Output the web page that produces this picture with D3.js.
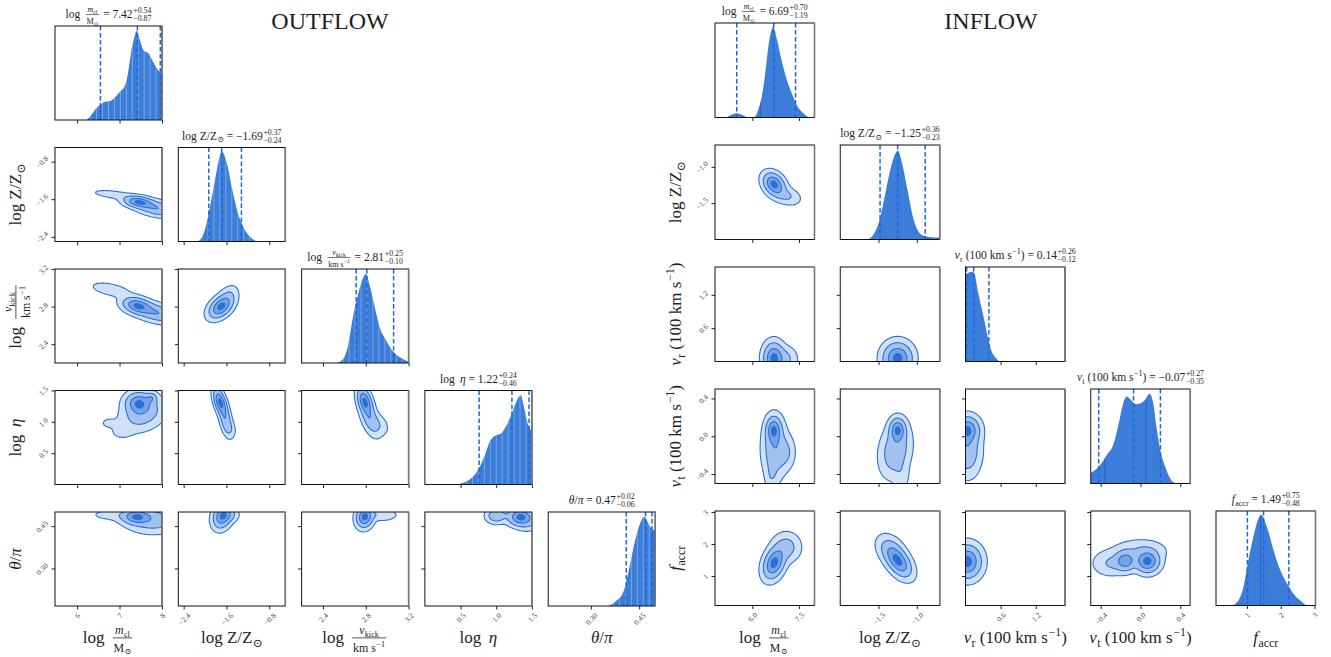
<!DOCTYPE html>
<html><head><meta charset="utf-8">
<script src="https://cdn.jsdelivr.net/npm/d3@7"></script>
<style>
body{margin:0;background:#fff;}
svg text{font-family:"Liberation Serif","DejaVu Serif",serif;white-space:pre;}
</style></head><body>
<svg id="chart" width="1331" height="657"></svg>
<script>
// ===================== DATA =====================
// ---- OUTFLOW ----
const outflowDomains = [[5.48, 8.0], [-2.5, -0.5], [2.2, 3.2], [0.0, 1.5], [0.167, 0.5]];
const outflowTicks = [[6, 7, 8], [-2.4, -1.6, -0.8], [2.4, 2.8, 3.2], [0.5, 1.0, 1.5], [0.30, 0.45]];
const outflowTickLabels = [["6", "7", "8"], ["−2.4", "−1.6", "−0.8"], ["2.4", "2.8", "3.2"], ["0.5", "1.0", "1.5"], ["0.30", "0.45"]];
const outflowMedian = [7.42, -1.69, 2.81, 1.22, 0.47];
const outflowPlus = [0.54, 0.37, 0.25, 0.24, 0.02];
const outflowMinus = [0.87, 0.24, 0.10, 0.46, 0.06];
const outflowMedianText = ["7.42", "−1.69", "2.81", "1.22", "0.47"];
const outflowPlusText = ["+0.54", "+0.37", "+0.25", "+0.24", "+0.02"];
const outflowMinusText = ["−0.87", "−0.24", "−0.10", "−0.46", "−0.06"];

// 1D marginals: [value, relative density]
const outflowHistMcl = [[5.48,0],[6.2,0],[6.3,0.035],[6.42,0.106],[6.54,0.16],[6.66,0.195],[6.77,0.2],[6.89,0.24],[7.01,0.30],[7.13,0.37],[7.2,0.5],[7.28,0.745],[7.36,0.9],[7.40,0.95],[7.48,0.85],[7.56,0.745],[7.68,0.71],[7.79,0.62],[7.91,0.53],[8.0,0.5]];
const outflowHistZ = [[-2.5,0],[-2.15,0],[-2.03,0.08],[-1.90,0.39],[-1.79,0.73],[-1.73,0.9],[-1.69,0.96],[-1.59,0.83],[-1.49,0.55],[-1.40,0.33],[-1.28,0.15],[-1.15,0.045],[-1.0,0],[-0.5,0]];
const outflowHistVkick = [[2.2,0],[2.52,0],[2.587,0.04],[2.63,0.165],[2.68,0.49],[2.73,0.74],[2.78,0.92],[2.80,0.95],[2.84,0.81],[2.89,0.56],[2.93,0.38],[2.99,0.24],[3.05,0.13],[3.12,0.06],[3.2,0.015]];
const outflowHistEta = [[0,0],[0.41,0],[0.60,0.04],[0.74,0.15],[0.83,0.29],[0.92,0.47],[0.99,0.52],[1.06,0.54],[1.13,0.61],[1.20,0.72],[1.27,0.86],[1.345,0.95],[1.39,0.82],[1.44,0.65],[1.5,0.57]];
const outflowHistTheta = [[0.167,0],[0.351,0],[0.377,0.05],[0.402,0.16],[0.418,0.38],[0.433,0.63],[0.449,0.84],[0.466,0.95],[0.474,0.91],[0.485,0.84],[0.5,0.80]];

// 2D density blobs: [centre x, centre y, width x, width y, tilt, peak]
const kdeO_Z_M = [[7.45,-1.66,0.2,0.07,-0.3,1],[7.9,-1.8,0.3,0.1,-0.4,0.6],[6.85,-1.5,0.3,0.06,-0.5,0.15]];
const kdeO_V_M = [[7.42,2.81,0.2,0.05,-0.3,1],[7.9,2.73,0.3,0.06,-0.4,0.6],[6.8,2.98,0.3,0.05,-0.5,0.15]];
const kdeO_E_M = [[7.45,1.30,0.18,0.1,0,1],[7.75,1.38,0.08,0.05,0,0.45],[7.55,1.12,0.3,0.15,0.3,0.45],[6.75,0.98,0.12,0.05,0,0.1],[7.05,0.84,0.16,0.07,0,0.1]];
const kdeO_T_M = [[7.4,0.483,0.2,0.015,0,1],[7.8,0.47,0.35,0.025,0,0.5],[6.9,0.49,0.35,0.012,0,0.15]];
const kdeO_V_Z = [[-1.70,2.80,0.13,0.07,0.45,1],[-1.55,2.93,0.1,0.06,0.3,0.15]];
const kdeO_E_Z = [[-1.72,1.32,0.07,0.12,-0.5,1],[-1.62,1.05,0.07,0.15,-0.5,0.5],[-1.55,0.9,0.07,0.08,-0.3,0.15]];
const kdeO_T_Z = [[-1.68,0.485,0.1,0.025,0.2,1],[-1.55,0.49,0.1,0.015,0,0.3]];
const kdeO_E_V = [[2.79,1.33,0.04,0.12,-0.4,1],[2.84,1.05,0.05,0.15,-0.5,0.5],[2.93,0.95,0.05,0.1,-0.3,0.15]];
const kdeO_T_V = [[2.79,0.483,0.045,0.022,0.1,1],[2.95,0.49,0.08,0.012,0,0.2]];
const kdeO_T_E = [[1.33,0.483,0.1,0.018,0,1],[1.0,0.487,0.08,0.015,0,0.55],[1.45,0.47,0.1,0.02,0,0.3]];

// ---- INFLOW ----
const inflowDomains = [[4.8, 8.0], [-2.0, -0.7], [0.0, 1.7], [-0.5, 0.5], [0.08, 3.03]];
const inflowTicks = [[6.0, 7.5], [-1.5, -1.0], [0.6, 1.2], [-0.4, 0.0, 0.4], [1, 2, 3]];
const inflowTickLabels = [["6.0", "7.5"], ["−1.5", "−1.0"], ["0.6", "1.2"], ["−0.4", "0.0", "0.4"], ["1", "2", "3"]];
const inflowMedian = [6.69, -1.25, 0.14, -0.07, 1.49];
const inflowPlus = [0.70, 0.36, 0.26, 0.27, 0.75];
const inflowMinus = [1.19, 0.23, 0.12, 0.35, 0.48];
const inflowMedianText = ["6.69", "−1.25", "0.14", "−0.07", "1.49"];
const inflowPlusText = ["+0.70", "+0.36", "+0.26", "+0.27", "+0.75"];
const inflowMinusText = ["−1.19", "−0.23", "−0.12", "−0.35", "−0.48"];

const inflowHistMcl = [[4.8,0],[5.12,0],[5.3,0.025],[5.50,0.045],[5.7,0.025],[5.83,0.005],[5.99,0],[6.09,0.01],[6.20,0.09],[6.31,0.23],[6.42,0.48],[6.52,0.76],[6.63,0.94],[6.67,0.96],[6.79,0.83],[6.96,0.58],[7.12,0.39],[7.28,0.25],[7.44,0.125],[7.61,0.055],[7.77,0.01],[7.85,0],[8,0]];
const inflowHistZ = [[-2,0],[-1.65,0],[-1.56,0.06],[-1.50,0.17],[-1.43,0.41],[-1.36,0.69],[-1.30,0.87],[-1.246,0.94],[-1.19,0.80],[-1.12,0.52],[-1.06,0.27],[-0.99,0.10],[-0.93,0.045],[-0.86,0.03],[-0.7,0.02]];
const inflowHistVr = [[0,0.92],[0.05,0.94],[0.12,0.95],[0.153,0.93],[0.21,0.75],[0.27,0.58],[0.32,0.44],[0.38,0.26],[0.44,0.12],[0.52,0.035],[0.61,0],[1.7,0]];
const inflowHistVt = [[-0.5,0.11],[-0.41,0.19],[-0.34,0.30],[-0.27,0.42],[-0.22,0.63],[-0.17,0.86],[-0.14,0.92],[-0.10,0.89],[-0.05,0.84],[0.0,0.85],[0.05,0.89],[0.09,0.95],[0.13,0.84],[0.16,0.60],[0.20,0.35],[0.25,0.175],[0.30,0.05],[0.35,0.005],[0.38,0],[0.5,0]];
const inflowHistFaccr = [[0.08,0],[0.54,0],[0.74,0.05],[0.89,0.19],[1.04,0.48],[1.19,0.73],[1.34,0.92],[1.42,0.96],[1.59,0.83],[1.79,0.58],[1.99,0.37],[2.19,0.23],[2.39,0.12],[2.59,0.05],[2.79,0],[3.03,0]];
const inflowInnerLines = [[6.26], [], [], [-0.36, 0.056], [1.40]];

const kdeI_Z_M = [[6.7,-1.24,0.2,0.09,-0.3,1],[7.1,-1.4,0.25,0.07,-0.3,0.25]];
const kdeI_R_M = [[6.69,0.06,0.19,0.16,0,1],[7.1,0.05,0.2,0.12,0,0.25]];
const kdeI_T_M = [[6.69,0.07,0.14,0.08,0,1],[6.72,-0.13,0.22,0.17,0,0.65],[7.08,-0.17,0.17,0.1,0,0.3],[6.62,-0.42,0.12,0.1,0,0.2]];
const kdeI_F_M = [[6.7,1.4,0.2,0.28,0.3,1],[7.1,1.9,0.25,0.25,0,0.35]];
const kdeI_R_Z = [[-1.25,0.06,0.11,0.16,0,1]];
const kdeI_T_Z = [[-1.25,0.07,0.06,0.07,0,1],[-1.28,-0.15,0.11,0.15,0.2,0.6],[-1.2,-0.42,0.06,0.1,0,0.15]];
const kdeI_T_R = [[0.03,0.07,0.12,0.08,0,1],[0.03,-0.15,0.13,0.15,0,0.6]];
const kdeI_F_Z = [[-1.24,1.45,0.1,0.28,-0.5,1],[-1.35,1.85,0.1,0.25,-0.3,0.3]];
const kdeI_F_R = [[0.03,1.45,0.14,0.3,0,1]];
const kdeI_F_T = [[0.07,1.45,0.07,0.2,0,1],[-0.15,1.47,0.06,0.18,0,0.75],[-0.3,1.4,0.1,0.22,0,0.25],[0.0,1.8,0.15,0.2,0,0.2]];

// ===================== LABELS (math pieces) =====================
const LBL_MCL = ["log", {sp: 0.45}, {frac: [[{i: "m"}, {sub: ["cl"]}], ["M", {sub: ["⊙"]}]]}];
const LBL_Z = ["log ", "Z/Z", {sub: ["⊙"]}];
const LBL_VKICK = ["log", {sp: 0.45}, {frac: [[{i: "v"}, {sub: ["kick"]}], ["km s", {sup: ["−1"]}]]}];
const LBL_ETA = ["log", {sp: 0.45}, {i: "η"}];
const LBL_THETA = [{i: "θ"}, "/", {i: "π"}];
const LBL_VR = [{i: "v"}, {sub: ["r"]}, " (100 km s", {sup: ["−1"]}, ")"];
const LBL_VT = [{i: "v"}, {sub: ["t"]}, " (100 km s", {sup: ["−1"]}, ")"];
const LBL_FACCR = [{i: "f"}, {sub: ["accr"]}];

// ===================== STYLE / LAYOUT =====================
const HIST_FILL = "#3b7dd8";
const DASH_COLOR = "#1a68de";
const LINE_COLOR = "#2a6fd6";
const FILLS = ["#d0e0f6", "#a2c1ee", "#74a3e6", "#2a6fd8"];
const LEVELS = [0.05, 0.22, 0.55, 0.88];
const TEXT_COLOR = "#1e1e1e";

const corners = [
  {
    title: "OUTFLOW", titleX: 330,
    L: {x0: 55, dx: 123.3, w: 107, y0: 26, dy: 121.5, h: 94, ylabX: 21},
    domains: outflowDomains, ticks: outflowTicks, tickLabels: outflowTickLabels,
    median: outflowMedian, plus: outflowPlus, minus: outflowMinus,
    medianText: outflowMedianText, plusText: outflowPlusText, minusText: outflowMinusText,
    hists: [outflowHistMcl, outflowHistZ, outflowHistVkick, outflowHistEta, outflowHistTheta],
    innerLines: null,
    labels: [LBL_MCL, LBL_Z, LBL_VKICK, LBL_ETA, LBL_THETA],
    kde: {"1,0": kdeO_Z_M, "2,0": kdeO_V_M, "3,0": kdeO_E_M, "4,0": kdeO_T_M,
          "2,1": kdeO_V_Z, "3,1": kdeO_E_Z, "4,1": kdeO_T_Z,
          "3,2": kdeO_E_V, "4,2": kdeO_T_V, "4,3": kdeO_T_E}
  },
  {
    title: "INFLOW", titleX: 991,
    L: {x0: 715, dx: 125.25, w: 99.5, y0: 23, dy: 122, h: 94.5, ylabX: 681},
    domains: inflowDomains, ticks: inflowTicks, tickLabels: inflowTickLabels,
    median: inflowMedian, plus: inflowPlus, minus: inflowMinus,
    medianText: inflowMedianText, plusText: inflowPlusText, minusText: inflowMinusText,
    hists: [inflowHistMcl, inflowHistZ, inflowHistVr, inflowHistVt, inflowHistFaccr],
    innerLines: inflowInnerLines,
    labels: [LBL_MCL, LBL_Z, LBL_VR, LBL_VT, LBL_FACCR],
    kde: {"1,0": kdeI_Z_M, "2,0": kdeI_R_M, "3,0": kdeI_T_M, "4,0": kdeI_F_M,
          "2,1": kdeI_R_Z, "3,1": kdeI_T_Z, "4,1": kdeI_F_Z,
          "3,2": kdeI_T_R, "4,2": kdeI_F_R, "4,3": kdeI_F_T}
  }
];

// ===================== RENDERING =====================
const svg = d3.select("#chart");
let clipCount = 0;

function leaf(g, t, italic, x, y, size) {
  const el = g.append("text").attr("x", x).attr("y", y).attr("font-size", size)
    .attr("font-style", italic ? "italic" : "normal").attr("fill", TEXT_COLOR).text(t);
  return x + el.node().getComputedTextLength();
}
function layoutMath(g, items, x, y, size) {
  for (const it of items) {
    if (typeof it === "string") x = leaf(g, it, false, x, y, size);
    else if (it.i !== undefined) x = leaf(g, it.i, true, x, y, size);
    else if (it.sp !== undefined) x += it.sp * size;
    else if (it.sub) x = layoutMath(g, it.sub, x + 0.02 * size, y + 0.22 * size, size * 0.7);
    else if (it.sup) x = layoutMath(g, it.sup, x + 0.04 * size, y - 0.42 * size, size * 0.7);
    else if (it.supsub) {
      const a = layoutMath(g, it.supsub[0], x + 0.06 * size, y - 0.4 * size, size * 0.68);
      const b = layoutMath(g, it.supsub[1], x + 0.06 * size, y + 0.3 * size, size * 0.68);
      x = Math.max(a, b);
    } else if (it.frac) {
      const fs = size * 0.7;
      const gn = g.append("g"), gd = g.append("g");
      const wn = layoutMath(gn, it.frac[0], 0, y - 0.52 * size, fs);
      const wd = layoutMath(gd, it.frac[1], 0, y + 0.5 * size, fs);
      const W = Math.max(wn, wd) + 0.16 * size;
      gn.attr("transform", `translate(${x + (W - wn) / 2},0)`);
      gd.attr("transform", `translate(${x + (W - wd) / 2},0)`);
      g.append("line").attr("x1", x + 0.03 * size).attr("x2", x + W - 0.03 * size)
        .attr("y1", y - 0.3 * size).attr("y2", y - 0.3 * size)
        .attr("stroke", TEXT_COLOR).attr("stroke-width", Math.max(0.6, size * 0.045));
      x += W + 0.08 * size;
    }
  }
  return x;
}
function mathLabel(parent, items, size, cx, baseline, rotate) {
  const outer = parent.append("g");
  const inner = outer.append("g");
  const W = layoutMath(inner, items, 0, 0, size);
  if (rotate) outer.attr("transform", `translate(${baseline},${cx}) rotate(-90) translate(${-W / 2},0)`);
  else outer.attr("transform", `translate(${cx - W / 2},${baseline})`);
  return outer;
}

function drawKde(body, comps, xs, ys, xd, yd) {
  const nx = 150, ny = 140;
  const ex = (xd[1] - xd[0]) * 0.25, ey = (yd[1] - yd[0]) * 0.25;
  const x0 = xd[0] - ex, x1 = xd[1] + ex, y0 = yd[0] - ey, y1 = yd[1] + ey;
  const vals = new Float64Array(nx * ny);
  let mx = 0;
  for (let j = 0; j < ny; j++) {
    const y = y0 + j / (ny - 1) * (y1 - y0);
    for (let i = 0; i < nx; i++) {
      const x = x0 + i / (nx - 1) * (x1 - x0);
      let s = 0;
      for (const [cx, cy, sx, sy, rho, w] of comps) {
        const dx = (x - cx) / sx, dy = (y - cy) / sy;
        s += w * Math.exp(-0.5 * (dx * dx - 2 * rho * dx * dy + dy * dy) / (1 - rho * rho));
      }
      vals[j * nx + i] = s;
      if (s > mx) mx = s;
    }
  }
  const cs = d3.contours().size([nx, ny]).thresholds(LEVELS.map(f => f * mx))(vals);
  const toPx = p => {
    const x = x0 + (p[0] - 0.5) / (nx - 1) * (x1 - x0);
    const y = y0 + (p[1] - 0.5) / (ny - 1) * (y1 - y0);
    return [xs(x), ys(y)];
  };
  const pathOf = geom => geom.coordinates.map(poly => poly.map(ring =>
    "M" + ring.map(p => toPx(p).map(v => v.toFixed(2)).join(",")).join("L") + "Z").join("")).join("");
  body.selectAll("path.kde").data(cs).join("path").attr("class", "kde")
    .attr("d", pathOf).attr("fill", (d, i) => FILLS[i]).attr("fill-rule", "evenodd")
    .attr("stroke", LINE_COLOR).attr("stroke-width", 1.1);
}

function styleTickText(sel, orient) {
  sel.each(function () {
    const t = d3.select(this);
    if (!t.text()) return;
    t.attr("font-size", 7.5).attr("fill", "#444").attr("text-anchor", "middle")
      .attr("x", 0).attr("y", 0).attr("dy", "0.35em");
    const len = this.getComputedTextLength();
    const half = (len + 5) * 0.7071 / 2;
    if (orient === "bottom") t.attr("transform", `translate(0,${3.5 + 3 + half}) rotate(-45)`);
    else t.attr("transform", `translate(${-(3.5 + 3 + half)},0) rotate(-45)`);
  });
}

function drawCorner(cfg) {
  const L = cfg.L, n = cfg.domains.length;
  const g = svg.append("g");
  g.append("text").attr("x", cfg.titleX).attr("y", 29).attr("text-anchor", "middle")
    .attr("font-size", 24).attr("fill", TEXT_COLOR).text(cfg.title);

  for (let r = 0; r < n; r++) for (let c = 0; c <= r; c++) {
    const left = L.x0 + c * L.dx, top = L.y0 + r * L.dy;
    const xs = d3.scaleLinear().domain(cfg.domains[c]).range([left, left + L.w]);
    const pg = g.append("g");
    const cid = "clip" + (clipCount++);
    pg.append("clipPath").attr("id", cid).append("rect")
      .attr("x", left).attr("y", top).attr("width", L.w).attr("height", L.h);
    const body = pg.append("g").attr("clip-path", `url(#${cid})`);

    if (r === c) {
      const ys = d3.scaleLinear().domain([0, 1]).range([top + L.h, top]);
      const area = d3.area().x(d => xs(d[0])).y0(ys(0)).y1(d => ys(d[1])).curve(d3.curveMonotoneX);
      const hd = cfg.hists[c];
      body.append("path").attr("d", area(hd)).attr("fill", HIST_FILL);
      const aid = "clip" + (clipCount++);
      pg.append("clipPath").attr("id", aid).append("path").attr("d", area(hd));
      const lg = body.append("g").attr("clip-path", `url(#${aid})`);
      if (cfg.innerLines) {
        lg.selectAll("line").data(cfg.innerLines[c]).join("line")
          .attr("x1", d => xs(d)).attr("x2", d => xs(d)).attr("y1", top).attr("y2", top + L.h)
          .attr("stroke", "#2856a8").attr("stroke-width", 0.9).attr("opacity", 0.8);
      } else {
        const bins = d3.range(1, 18).map(k => cfg.domains[c][0] + k * (cfg.domains[c][1] - cfg.domains[c][0]) / 18);
        lg.selectAll("line").data(bins).join("line")
          .attr("x1", d => xs(d)).attr("x2", d => xs(d)).attr("y1", top).attr("y2", top + L.h)
          .attr("stroke", "#ffffff").attr("stroke-width", 0.9).attr("opacity", 0.35);
      }
      const q = [cfg.median[c] - cfg.minus[c], cfg.median[c], cfg.median[c] + cfg.plus[c]];
      body.selectAll("line.q").data(q).join("line").attr("class", "q")
        .attr("x1", d => xs(d)).attr("x2", d => xs(d)).attr("y1", top).attr("y2", top + L.h)
        .attr("stroke", DASH_COLOR).attr("stroke-width", 1.5).attr("stroke-dasharray", "4.5,2.5");
      // title
      const titleItems = cfg.labels[c].concat([" = " + cfg.medianText[c], {supsub: [[cfg.plusText[c]], [cfg.minusText[c]]]}]);
      mathLabel(g, titleItems, 11.5, left + L.w / 2, top - 8, false);
    } else {
      const ys = d3.scaleLinear().domain(cfg.domains[r]).range([top + L.h, top]);
      drawKde(body, cfg.kde[`${r},${c}`], xs, ys, cfg.domains[c], cfg.domains[r]);
      const axl = d3.axisLeft(ys).tickValues(cfg.ticks[r]).tickSize(3.5).tickSizeOuter(0)
        .tickFormat((d, i) => c === 0 ? cfg.tickLabels[r][i] : "");
      const ag = pg.append("g").attr("transform", `translate(${left},0)`).call(axl);
      ag.select(".domain").remove();
      ag.selectAll("line").attr("stroke", "#222");
      styleTickText(ag.selectAll("text"), "left");
    }
    // frame
    pg.append("rect").attr("x", left).attr("y", top).attr("width", L.w).attr("height", L.h)
      .attr("fill", "none").attr("stroke", "#111").attr("stroke-width", 1);
    pg.append("line").attr("x1", left + L.w).attr("x2", left + L.w).attr("y1", top).attr("y2", top + L.h)
      .attr("stroke", "#777").attr("stroke-width", 1.6);
    // bottom axis
    const axb = d3.axisBottom(xs).tickValues(cfg.ticks[c]).tickSize(3.5).tickSizeOuter(0)
      .tickFormat((d, i) => r === n - 1 ? cfg.tickLabels[c][i] : "");
    const bg = pg.append("g").attr("transform", `translate(0,${top + L.h})`).call(axb);
    bg.select(".domain").remove();
    bg.selectAll("line").attr("stroke", "#222");
    styleTickText(bg.selectAll("text"), "bottom");
  }
  // axis labels
  for (let k = 0; k < n; k++) {
    mathLabel(g, cfg.labels[k], 17, L.x0 + k * L.dx + L.w / 2, 643, false);
    if (k > 0) mathLabel(g, cfg.labels[k], 17, L.y0 + k * L.dy + L.h / 2, L.ylabX, true);
  }
}

corners.forEach(drawCorner);
</script>
</body></html>
